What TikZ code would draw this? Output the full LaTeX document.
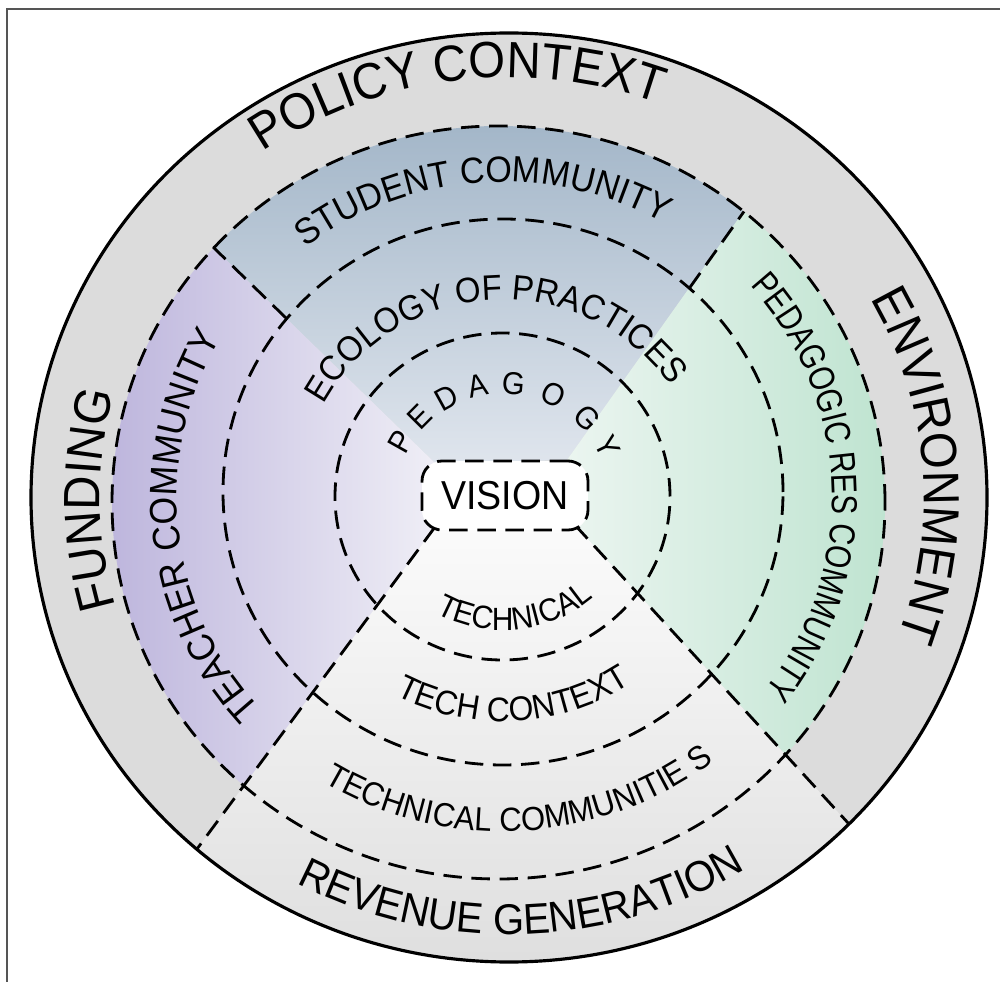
\documentclass[tikz,border=0pt]{standalone}
\usepackage{fontspec}
\setmainfont{Liberation Sans}[FakeStretch=0.93]
\newfontfamily\narrowsf{Liberation Sans}[FakeStretch=0.82]
\usetikzlibrary{decorations.text}

\definecolor{ringgray}{HTML}{DCDCDC}
\definecolor{bluetop}{HTML}{9FB3C6}
\definecolor{bluebot}{HTML}{DFE5ED}
\definecolor{purpleout}{HTML}{BCB4DC}
\definecolor{purplein}{HTML}{EFEEF6}
\definecolor{greenin}{HTML}{EBF5F0}
\definecolor{greenout}{HTML}{BDE3CF}
\definecolor{techin}{HTML}{FBFBFB}
\definecolor{techout}{HTML}{DEDEDE}
\definecolor{framegray}{HTML}{555555}

\begin{document}
\begin{tikzpicture}[x=0.02cm, y=0.02cm,
    dashring/.style={draw=black, line width=1.6pt, dash pattern=on 10.5pt off 5.5pt},
    rim/.style={draw=black, line width=1.8pt},
    ringtext/.style={decorate, decoration={text along path, text align=center}},
    visionbox/.style={dashring, rounded corners=0.4cm, fill=white,
        minimum width=3.32cm, minimum height=1.38cm, inner sep=0pt,
        font=\fontsize{23}{27}\selectfont},
    pedletter/.style={inner sep=0pt, font=\fontsize{18}{21}\selectfont}
]
    \useasboundingbox (0,0) rectangle (1000,-982);

    % centres of the rings
    \coordinate (outerc) at (509,-497.5);
    \coordinate (ringc3) at (498.5,-502.5);
    \coordinate (ringc2) at (503,-492);
    \coordinate (ringc1) at (502.5,-496.5);
    \coordinate (midc) at (503,-497);

    % sector corners and divider ends
    \coordinate (ul) at (435,-463);
    \coordinate (ur) at (567,-460);
    \coordinate (ll) at (435,-527);
    \coordinate (lr) at (575,-525);
    \coordinate (ul2) at (286,-318);
    \coordinate (ul3) at (213,-247);
    \coordinate (ur2) at (689.5,-288);
    \coordinate (ur3) at (744,-211.5);
    \coordinate (llo) at (197,-849);
    \coordinate (lro) at (849,-824);

    % frame
    \coordinate (frametl) at (7,-9);
    \draw[framegray, line width=0.9pt] (7,-982) -- (frametl) -- (1000,-9);

    % outer ring
    \fill[ringgray] (outerc) ellipse[x radius=478, y radius=464.5];

    % coloured sectors
    \begin{scope}
        \clip (ringc3) ellipse[x radius=386.5, y radius=376.5];
        \shade[top color=bluetop, bottom color=bluebot]
            (ul) -- (180,-215) -- (180,-100) -- (783,-100) -- (783,-156) -- (ur) -- cycle;
        \shade[left color=purpleout, right color=purplein]
            (ul) -- (180,-215) -- (100,-215) -- (100,-870) -- (182,-870) -- (ll) -- cycle;
        \shade[left color=greenin, right color=greenout]
            (ur) -- (783,-156) -- (900,-156) -- (900,-850) -- (873,-850) -- (lr) -- cycle;
    \end{scope}
    \begin{scope}
        \clip (outerc) ellipse[x radius=478, y radius=464.5];
        \shade[top color=techin, bottom color=techout]
            (ll) -- (104,-975) -- (987,-975) -- (lr) -- cycle;
    \end{scope}

    % dashed rings
    \draw[dashring] (ringc3) ellipse[x radius=386.5, y radius=376.5];
    \draw[dashring] (ringc2) ellipse[x radius=280, y radius=273];
    \draw[dashring] (ringc1) ellipse[x radius=167.5, y radius=163.5];

    % dividers
    \draw[dashring] (ul2) -- (ul3);
    \draw[dashring] (ur2) -- (ur3);
    \draw[dashring] (ll) -- (llo);
    \draw[dashring] (lr) -- (lro);

    \draw[rim] (outerc) ellipse[x radius=478, y radius=464.5];

    \node[visionbox] (vision) at (505,-495.5) {VISION};

    % outer labels
    \path[ringtext, decoration={text={|\fontsize{29}{34}\selectfont|POLICY CONTEXT}}]
        ([shift={(142.3:432 and 420)}]outerc) arc[start angle=142.3, end angle=52.3, x radius=432, y radius=420];
    \path[ringtext, decoration={text={|\fontsize{29}{34}\selectfont|FUNDING}}]
        ([shift={(210.3:409 and 398)}]outerc) arc[start angle=210.3, end angle=150.3, x radius=409, y radius=398];
    \path[ringtext, decoration={text={|\fontsize{29}{34}\selectfont|ENVIRONMENT}}]
        ([shift={(34.65:415 and 403)}]outerc) arc[start angle=34.65, end angle=-25.35, x radius=415, y radius=403];
    \path[ringtext, decoration={text={|\fontsize{24.5}{29}\selectfont|REVENUE GENERATION}}]
        ([shift={(231.8:450 and 437)}]outerc) arc[start angle=231.8, end angle=311.8, x radius=450, y radius=437];

    % community ring
    \path[ringtext, decoration={text={|\fontsize{20.8}{25}\selectfont|STUDENT COMMUNITY}}]
        ([shift={(144:324 and 315)}]midc) arc[start angle=144, end angle=44, x radius=324, y radius=315];
    \path[ringtext, decoration={text={|\fontsize{21.8}{26}\selectfont|TEACHER COMMUNITY}}]
        ([shift={(230.9:326 and 316.9)}]midc) arc[start angle=230.9, end angle=140.9, x radius=326, y radius=316.9];
    \path[ringtext, decoration={text={|\narrowsf\fontsize{20.6}{24}\selectfont|PEDAGOGIC RES COMMUNITY}}]
        ([shift={(47.1:329 and 319.8)}]midc) arc[start angle=47.1, end angle=-42.9, x radius=329, y radius=319.8];
    \path[ringtext, decoration={text={|\fontsize{19}{23}\selectfont|TECHNICAL COMMUNITIE S}}]
        ([shift={(228.2:344 and 334.4)}]midc) arc[start angle=228.2, end angle=318.2, x radius=344, y radius=334.4];

    % practice ring
    \path[ringtext, decoration={text={|\fontsize{20.1}{24}\selectfont|ECOLOGY OF PRACTICES}}]
        ([shift={(163.1:203 and 197.3)}]midc) arc[start angle=163.1, end angle=23.1, x radius=203, y radius=197.3];
    \path[ringtext, decoration={text={|\fontsize{19.5}{23}\selectfont|TECH CONTEXT}}]
        ([shift={(233:231 and 224.5)}]midc) arc[start angle=233, end angle=313, x radius=231, y radius=224.5];

    % inner ring
    \foreach \ang/\ch [count=\i] in {150.7/P,135.2/E,118.8/D,102.6/A,84.9/G,64.5/O,44.1/G,26.1/Y}
        \node[pedletter, rotate=\ang-90] (ped\i) at ([shift={(\ang:117 and 113.7)}]midc) {\ch};
    \path[ringtext, decoration={text={|\fontsize{18.3}{22}\selectfont|TECHNICAL}}]
        ([shift={(230.9:137 and 133.2)}]midc) arc[start angle=230.9, end angle=320.9, x radius=137, y radius=133.2];
\end{tikzpicture}
\end{document}
